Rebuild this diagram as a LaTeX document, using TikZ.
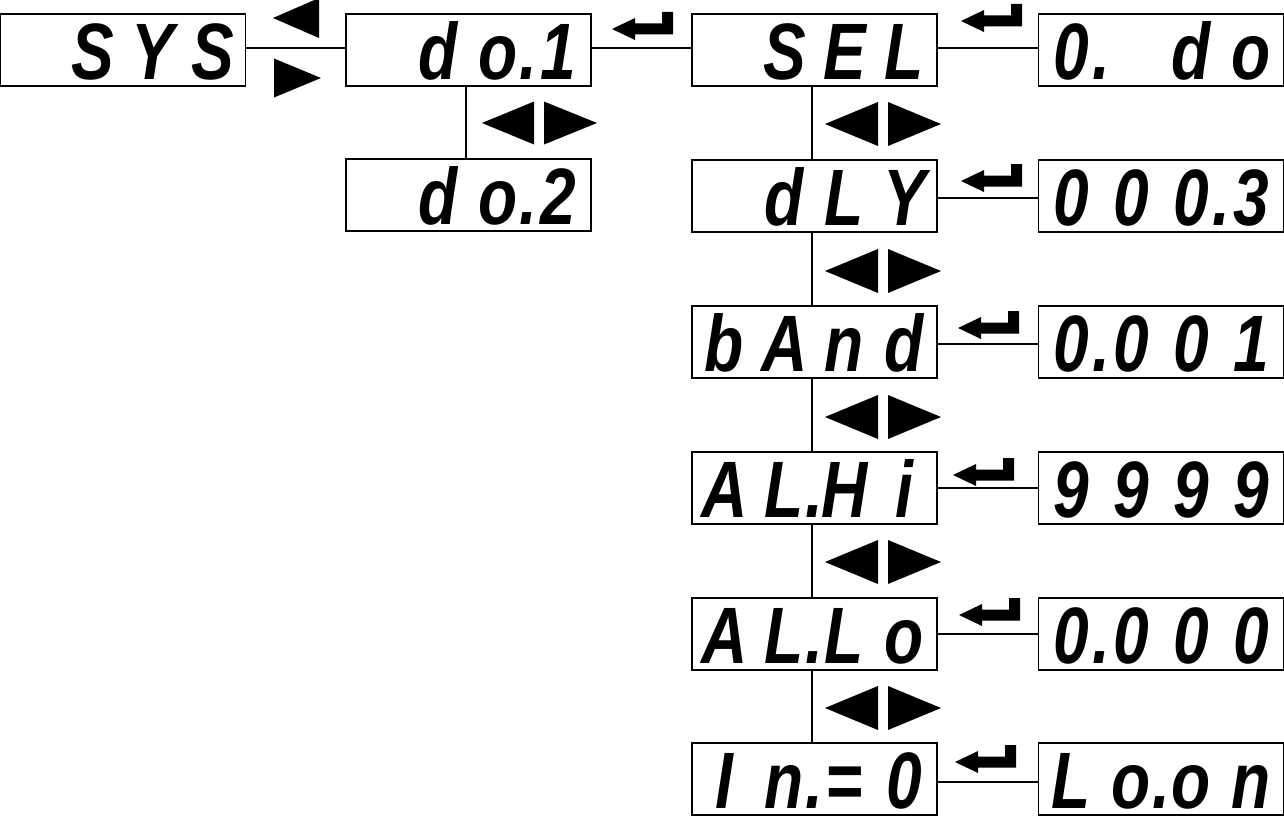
\documentclass[tikz,border=0pt]{standalone}
\usepackage{fontspec}
\newfontfamily\segfont[FakeStretch=0.8]{Liberation Sans}
\newcommand\cel[1]{\makebox[60pt][c]{#1}}
\newcommand\dpt{\makebox[0pt][c]{.}}
\tikzset{
  box/.style={draw, line width=1.2pt, minimum width=245pt, minimum height=72pt,
    inner sep=0pt, text height=58pt, text depth=0pt,
    font=\segfont\bfseries\itshape\fontsize{80}{80}\selectfont},
  conn/.style={line width=1.2pt},
  pics/ltri/.style args={#1/#2}{code={\fill (0,0) -- (#1,-#2) -- (#1,#2) -- cycle;}},
  pics/rtri/.style args={#1/#2}{code={\fill (0,0) -- (-#1,-#2) -- (-#1,#2) -- cycle;}},
  pics/enter/.style={code={\fill (0,0) -- (23,-11) -- (23,-5.5) -- (50,-5.5) -- (50,-17)
      -- (61,-17) -- (61,5.5) -- (23,5.5) -- (23,11) -- cycle;}}
}
\begin{document}
\begin{tikzpicture}[x=1pt,y=-1pt]
\fill[white] (0,0) rectangle (1284,816);
\useasboundingbox (0,0) rectangle (1284,816);

% boxes
\node[box] (sys)  at (123,50)    {\cel{}\cel{S}\cel{Y}\cel{S}};
\node[box] (do1)  at (468.5,50)  {\cel{}\cel{d}\cel{o}\dpt\cel{1}};
\node[box] (do2)  at (468.5,195) {\cel{}\cel{d}\cel{o}\dpt\cel{2}};
\node[box] (sel)  at (814.5,50)  {\cel{}\cel{S}\cel{E}\cel{L}};
\node[box] (vsel) at (1161,50)   {\cel{0}\dpt\cel{}\cel{d}\cel{o}};
\node[box] (dly)  at (814.5,196) {\cel{}\cel{d}\cel{L}\cel{Y}};
\node[box] (vdly) at (1161,196)  {\cel{0}\cel{0}\cel{0}\dpt\cel{3}};
\node[box] (band) at (814.5,342) {\cel{b}\cel{A}\cel{n}\cel{d}};
\node[box] (vband) at (1161,342) {\cel{0}\dpt\cel{0}\cel{0}\cel{1}};
\node[box] (alhi) at (814.5,488) {\cel{A}\cel{L}\dpt\cel{H}\cel{i}};
\node[box] (valhi) at (1161,488) {\cel{9}\cel{9}\cel{9}\cel{9}};
\node[box] (allo) at (814.5,634) {\cel{A}\cel{L}\dpt\cel{L}\cel{o}};
\node[box] (vallo) at (1161,634) {\cel{0}\dpt\cel{0}\cel{0}\cel{0}};
\node[box] (inz)  at (814.5,779) {\cel{I}\cel{n}\dpt\cel{=}\cel{0}};
\node[box] (vinz) at (1161,779)  {\cel{L}\cel{o}\dpt\cel{o}\cel{n}};

% connectors
\draw[conn] ([yshift=2pt]sys.east) -- ([yshift=2pt]do1.west);
\draw[conn] ([yshift=2pt]do1.east) -- ([yshift=2pt]sel.west);
\draw[conn] ([yshift=2pt]sel.east) -- ([yshift=2pt]vsel.west);
\draw[conn] ([yshift=-2pt]dly.east) -- ([yshift=-2pt]vdly.west);
\draw[conn] ([yshift=-2pt]band.east) -- ([yshift=-2pt]vband.west);
\draw[conn] (alhi.east) -- (valhi.west);
\draw[conn] (allo.east) -- (vallo.west);
\draw[conn] ([yshift=-3pt]inz.east) -- ([yshift=-3pt]vinz.west);
\draw[conn] ([xshift=-2.5pt]do1.south) -- ([xshift=-2.5pt]do2.north);
\draw[conn] ([xshift=-2.5pt]sel.south) -- ([xshift=-2.5pt]dly.north);
\draw[conn] ([xshift=-2.5pt]dly.south) -- ([xshift=-2.5pt]band.north);
\draw[conn] ([xshift=-2.5pt]band.south) -- ([xshift=-2.5pt]alhi.north);
\draw[conn] ([xshift=-2.5pt]alhi.south) -- ([xshift=-2.5pt]allo.north);
\draw[conn] ([xshift=-2.5pt]allo.south) -- ([xshift=-2.5pt]inz.north);

% key symbols
\pic at (273,18) {ltri=46/20};
\pic at (321,78) {rtri=47/19.5};
\pic at (482,123) {ltri=52/21.5};
\pic at (597,123) {rtri=53/21.5};
\foreach \yy in {124,271,417,562,708}{
  \pic at (825,\yy) {ltri=53/22};
  \pic at (941,\yy) {rtri=53/22};
}
\pic at (612,29) {enter};
\pic at (961,21) {enter};
\pic at (961,181) {enter};
\pic at (958,328) {enter};
\pic at (953,475) {enter};
\pic at (959,615) {enter};
\pic at (955,762) {enter};
\end{tikzpicture}
\end{document}
